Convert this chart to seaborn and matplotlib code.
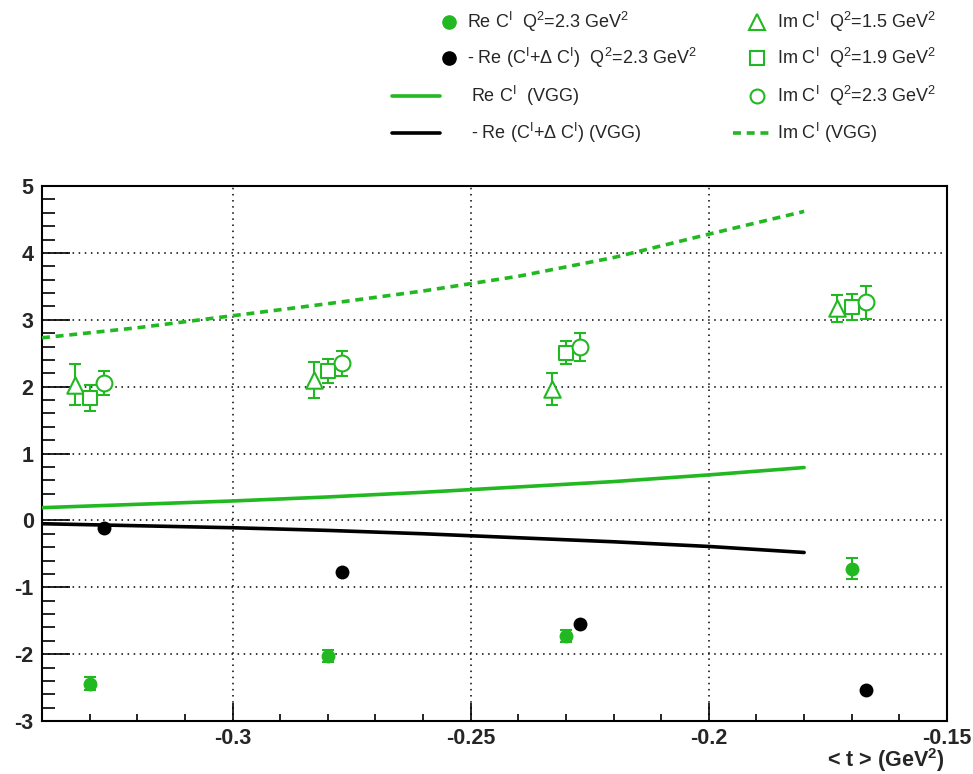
import numpy as np
import pandas as pd
import matplotlib
matplotlib.use("Agg")
import matplotlib.pyplot as plt
from matplotlib.lines import Line2D
from matplotlib.ticker import FixedLocator, FixedFormatter, MultipleLocator
import seaborn as sns

# ---------------- data ----------------
# Re C^I, Q^2 = 2.3 GeV^2 (green filled circles)
re_t = [-0.330, -0.280, -0.230, -0.170]
re_val = [-2.44, -2.03, -1.73, -0.72]
re_err = [0.10, 0.09, 0.09, 0.16]

# -Re(C^I + dC^I), Q^2 = 2.3 GeV^2 (black filled circles)
reb_t = [-0.327, -0.277, -0.227, -0.167]
reb_val = [-0.11, -0.77, -1.55, -2.53]

# Im C^I Q^2 = 1.5 (triangles)
im15_t = [-0.333, -0.283, -0.233, -0.173]
im15_val = [2.03, 2.10, 1.96, 3.17]
im15_err = [0.31, 0.27, 0.24, 0.20]

# Im C^I Q^2 = 1.9 (squares)
im19_t = [-0.330, -0.280, -0.230, -0.170]
im19_val = [1.83, 2.24, 2.51, 3.19]
im19_err = [0.19, 0.18, 0.17, 0.19]

# Im C^I Q^2 = 2.3 (open circles)
im23_t = [-0.327, -0.277, -0.227, -0.167]
im23_val = [2.05, 2.35, 2.59, 3.26]
im23_err = [0.18, 0.19, 0.21, 0.25]

# VGG curves
vgg_t = [-0.34, -0.32, -0.30, -0.28, -0.26, -0.24, -0.22, -0.20, -0.18]
vgg_re = [0.19, 0.24, 0.29, 0.35, 0.42, 0.50, 0.58, 0.68, 0.79]
vgg_reb = [-0.05, -0.08, -0.11, -0.15, -0.20, -0.26, -0.32, -0.39, -0.48]
vgg_im = [2.73, 2.88, 3.06, 3.24, 3.43, 3.65, 3.93, 4.28, 4.62]

xtick_vals = [-0.30, -0.25, -0.20, -0.15]
xtick_labels = ["-0.3", "-0.25", "-0.2", "-0.15"]
ytick_vals = [-3, -2, -1, 0, 1, 2, 3, 4, 5]
ytick_labels = ["-3", "-2", "-1", "0", "1", "2", "3", "4", "5"]

legend_labels = [
    r"Re C$^{\mathrm{I}}$  Q$^{2}$=2.3 GeV$^{2}$",
    r"- Re (C$^{\mathrm{I}}$+Δ C$^{\mathrm{I}}$)  Q$^{2}$=2.3 GeV$^{2}$",
    r"Re C$^{\mathrm{I}}$  (VGG)",
    r"- Re (C$^{\mathrm{I}}$+Δ C$^{\mathrm{I}}$) (VGG)",
    r"Im C$^{\mathrm{I}}$  Q$^{2}$=1.5 GeV$^{2}$",
    r"Im C$^{\mathrm{I}}$  Q$^{2}$=1.9 GeV$^{2}$",
    r"Im C$^{\mathrm{I}}$  Q$^{2}$=2.3 GeV$^{2}$",
    r"Im C$^{\mathrm{I}}$ (VGG)",
]

# ---------------- style ----------------
sns.set_style("ticks")
plt.rcParams["font.family"] = ["Liberation Sans", "DejaVu Sans"]
plt.rcParams["mathtext.fontset"] = "custom"
plt.rcParams["mathtext.rm"] = "Liberation Sans"
plt.rcParams["mathtext.it"] = "Liberation Sans:italic"
plt.rcParams["mathtext.bf"] = "Liberation Sans:bold"
plt.rcParams["axes.unicode_minus"] = False

GREEN = "#22b822"
W, H = 973, 774
fig = plt.figure(figsize=(W / 100, H / 100), dpi=100)
ax = fig.add_axes([42 / W, 1 - 721 / H, (947 - 42) / W, (721 - 186) / H])

# VGG curves
df_vgg = pd.DataFrame({"t": vgg_t, "re": vgg_re, "reb": vgg_reb, "im": vgg_im})
sns.lineplot(data=df_vgg, x="t", y="im", ax=ax, color=GREEN, lw=2.6,
             linestyle=(0, (2.2, 1.6)), zorder=3)
sns.lineplot(data=df_vgg, x="t", y="re", ax=ax, color=GREEN, lw=2.6, zorder=3)
sns.lineplot(data=df_vgg, x="t", y="reb", ax=ax, color="black", lw=2.6, zorder=3)

# error bars
ebk = dict(fmt="none", ecolor=GREEN, elinewidth=1.5, capsize=4.5, capthick=1.5, zorder=4)
ax.errorbar(re_t, re_val, yerr=re_err, **ebk)
ax.errorbar(im15_t, im15_val, yerr=im15_err, **ebk)
ax.errorbar(im19_t, im19_val, yerr=im19_err, **ebk)
ax.errorbar(im23_t, im23_val, yerr=im23_err, **ebk)

# markers
sns.scatterplot(x=re_t, y=re_val, ax=ax, marker="o", s=100, color=GREEN,
                edgecolor=GREEN, linewidth=0, zorder=5)
sns.scatterplot(x=reb_t, y=reb_val, ax=ax, marker="o", s=100, color="black",
                edgecolor="black", linewidth=0, zorder=5)
open_kw = dict(facecolor="white", edgecolor=GREEN, linewidth=1.5, zorder=5)
sns.scatterplot(x=im15_t, y=im15_val, ax=ax, marker="^", s=140, **open_kw)
sns.scatterplot(x=im19_t, y=im19_val, ax=ax, marker="s", s=105, **open_kw)
sns.scatterplot(x=im23_t, y=im23_val, ax=ax, marker="o", s=130, **open_kw)

# axes
ax.set_xlim(-0.34, -0.15)
ax.set_ylim(-3, 5)
ax.xaxis.set_major_locator(FixedLocator(xtick_vals))
ax.xaxis.set_major_formatter(FixedFormatter(xtick_labels))
ax.xaxis.set_minor_locator(MultipleLocator(0.01))
ax.yaxis.set_major_locator(FixedLocator(ytick_vals))
ax.yaxis.set_major_formatter(FixedFormatter(ytick_labels))
ax.yaxis.set_minor_locator(MultipleLocator(0.2))
ax.tick_params(axis="both", which="both", direction="in", top=False, right=False,
               color="black")
ax.tick_params(axis="y", which="major", length=20, width=1.2, pad=6, labelsize=15.5)
ax.tick_params(axis="y", which="minor", length=9.5, width=1.2)
ax.tick_params(axis="x", which="major", length=13, width=1.2, pad=5, labelsize=15.5)
ax.tick_params(axis="x", which="minor", length=5, width=1.2)
for lab in ax.get_xticklabels() + ax.get_yticklabels():
    lab.set_fontweight("bold")
for sp in ax.spines.values():
    sp.set_linewidth(1.5)
    sp.set_color("black")
ax.grid(True, which="major", color="black", linestyle=(0, (1, 3)), linewidth=1.1)
ax.set_axisbelow(True)
ax.set_xlabel("")
ax.set_ylabel("")
fig.text(945 / W, 1 - 760 / H, r"< t > (GeV$^{\mathbf{2}}$)", ha="right", va="center",
         fontsize=15.5, fontweight="bold")

# legend entries (ROOT-style, frameless)
handles = [
    Line2D([], [], marker="o", ls="none", color=GREEN, markersize=9.5),
    Line2D([], [], marker="o", ls="none", color="black", markersize=9.5),
    Line2D([], [], color=GREEN, lw=2.6),
    Line2D([], [], color="black", lw=2.6),
    Line2D([], [], marker="^", ls="none", mfc="none", mec=GREEN, mew=1.5, markersize=11),
    Line2D([], [], marker="s", ls="none", mfc="none", mec=GREEN, mew=1.5, markersize=9.5),
    Line2D([], [], marker="o", ls="none", mfc="none", mec=GREEN, mew=1.5, markersize=10),
    Line2D([], [], color=GREEN, lw=2.6, linestyle=(0, (2.2, 1.6))),
]
# (handle left px, row y px, handlelength, handletextpad) -- fontsize 13pt = 18px
leg_layout = [
    (440, 22, 1.0, 0.5),
    (440, 58, 1.0, 0.5),
    (392, 96, 2.65, 1.7),
    (392, 133, 2.65, 1.7),
    (748, 22, 1.0, 0.6),
    (748, 58, 1.0, 0.6),
    (748, 96, 1.0, 0.6),
    (733, 133, 2.15, 0.3),
]
for h, lab, (lx, ly, hl, hp) in zip(handles, legend_labels, leg_layout):
    lg = fig.legend([h], [lab], loc="center left",
                    bbox_to_anchor=(lx / W, 1 - ly / H), bbox_transform=fig.transFigure,
                    frameon=False, fontsize=13, handlelength=hl, handletextpad=hp,
                    borderpad=0, borderaxespad=0)

fig.savefig("out.png", dpi=100, facecolor="white")
